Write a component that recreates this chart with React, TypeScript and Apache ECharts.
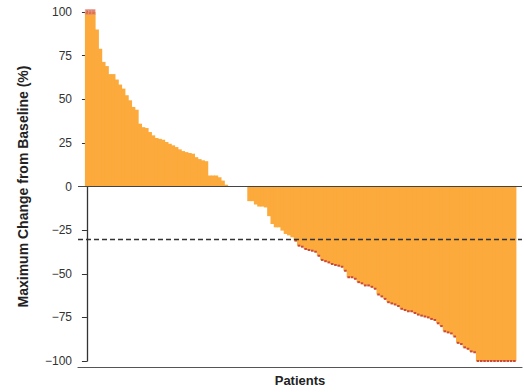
import React, { useEffect, useRef } from "react";
import * as echarts from "echarts";

// Maximum change from baseline (%) per patient, sorted (waterfall)
const changeValues: number[] = [
  100, 100, 100, 90, 79, 71.4, 69, 64.4, 64.4, 61.3, 58.4, 56.1, 52.3, 49.4, 45.6, 44,
  36, 34, 33.5, 31.2, 29.3, 27.8, 27.3, 26.8, 25.5, 24.5, 23.6, 22.6, 21.3, 20.3, 19.7,
  19.2, 18.8, 16.8, 15.7, 15, 14.5, 6.3, 6.3, 6.3, 5.3, 3.4, 1, 0, 0, 0, 0, 0, 0,
  -8.4, -8.4, -10.3, -11.5, -11.5, -12, -17, -21.5, -23.4, -23.4, -25.3, -27.2, -28,
  -29.1, -31, -33.9, -34.5, -35.8, -36.4, -36.8, -37.4, -39.7, -42.1, -42.8, -43.5,
  -44.4, -45, -45.4, -46, -48.3, -52, -52, -52.9, -54.8, -55.5, -56.7, -56.7, -57.5,
  -58.6, -61.9, -63, -64.4, -66.3, -67, -67.6, -68.5, -70.1, -70.8, -71.5, -71.5,
  -72.5, -73.4, -74, -74.5, -75, -75.9, -76.5, -78.4, -80, -83, -83.6, -84.2, -86,
  -89.6, -90.3, -92.2, -93, -94.5, -95,
  -100, -100, -100, -100, -100, -100, -100, -100, -100, -100, -100, -100,
];
const yTicks = [-100, -75, -50, -25, 0, 25, 50, 75, 100];
const thresholdLine = -30;
const capValue = 100;
const yAxisTitle = "Maximum Change from Baseline (%)";
const xAxisTitle = "Patients";

const FONT = "'Liberation Sans', Arial, sans-serif";

export default function App() {
  const ref = useRef<HTMLDivElement>(null);
  useEffect(() => {
    document.body.style.margin = "0";
    if (!ref.current) return;
    const chart = echarts.init(ref.current, undefined, { renderer: "svg" });
    const barData = changeValues.map((v, i) => [i, v]);
    const responseTips = changeValues
      .map((v, i) => [i, v])
      .filter((d) => d[1] <= thresholdLine);
    const capTips = changeValues
      .map((v, i) => [i, v])
      .filter((d) => d[1] >= capValue);
    chart.setOption({
      animation: false,
      grid: { left: 78, right: 2, top: 12, bottom: 31 },
      xAxis: {
        type: "value",
        min: -2.7,
        max: changeValues.length + 1.3,
        position: "bottom",
        offset: 6,
        axisLine: { show: true, onZero: false, lineStyle: { color: "#555", width: 1.2 } },
        axisTick: { show: false },
        axisLabel: { show: false },
        splitLine: { show: false },
        name: xAxisTitle,
        nameLocation: "middle",
        nameGap: 7,
        nameTextStyle: {
          fontFamily: FONT,
          fontWeight: "bold",
          fontSize: 13,
          color: "#222",
          verticalAlign: "top",
        },
      },
      yAxis: {
        type: "value",
        min: yTicks[0],
        max: yTicks[yTicks.length - 1],
        interval: 25,
        axisLine: { show: true, lineStyle: { color: "#333", width: 1.3 } },
        axisTick: { show: true, length: 5, lineStyle: { color: "#333", width: 1 } },
        axisLabel: {
          margin: 6,
          fontFamily: FONT,
          fontSize: 12,
          color: "#333",
          formatter: (v: number) => String(v).replace("-", "\u2212"),
        },
        splitLine: { show: false },
        name: yAxisTitle,
        nameLocation: "middle",
        nameGap: 48,
        nameTextStyle: {
          fontFamily: FONT,
          fontWeight: "bold",
          fontSize: 14,
          color: "#222",
        },
      },
      series: [
        {
          type: "bar",
          data: barData,
          barWidth: "122%",
          itemStyle: { color: "#FBAA3B" },
          markLine: {
            silent: true,
            symbol: "none",
            label: { show: false },
            data: [
              { yAxis: 0, lineStyle: { color: "#444", width: 1.2, type: "solid" } },
              {
                yAxis: thresholdLine,
                lineStyle: { color: "#333", width: 1.4, type: [5, 3] },
              },
            ],
          },
        },
        {
          type: "scatter",
          data: responseTips,
          symbol: "rect",
          symbolSize: [2.6, 2],
          itemStyle: { color: "#C94A3A", opacity: 1 },
          z: 3,
        },
        {
          type: "scatter",
          data: capTips,
          symbol: "rect",
          symbolSize: [3.2, 5],
          itemStyle: { color: "#D7634F", borderColor: "#E89A8A", borderWidth: 0.6 },
          z: 3,
        },
      ],
    });
    return () => chart.dispose();
  }, []);
  return <div ref={ref} style={{ width: 524, height: 392 }} />;
}
